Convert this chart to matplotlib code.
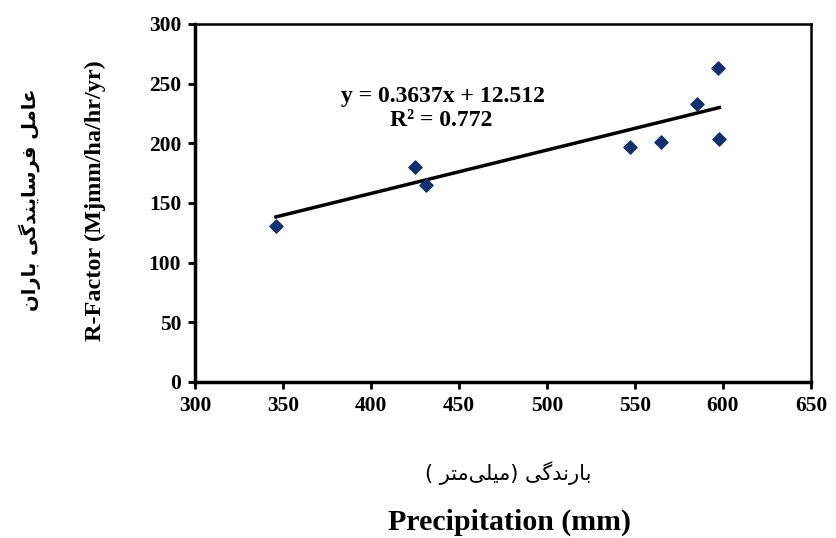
import matplotlib
matplotlib.use("Agg")
import matplotlib.pyplot as plt
import numpy as np

# data
precip = [346, 425, 431, 547, 565, 585, 597, 598]
r_factor = [131, 180, 165, 197, 201, 233, 263, 204]
slope, intercept = 0.3637, 12.512
r2 = 0.772

x_ticks = [300, 350, 400, 450, 500, 550, 600, 650]
y_ticks = [0, 50, 100, 150, 200, 250, 300]

# simple Persian shaping (presentation forms), since matplotlib has no shaper
FORMS = {
    "\u0627": ("\uFE8D", "\uFE8E", None, None),
    "\u0628": ("\uFE8F", "\uFE90", "\uFE91", "\uFE92"),
    "\u062A": ("\uFE95", "\uFE96", "\uFE97", "\uFE98"),
    "\u062F": ("\uFEA9", "\uFEAA", None, None),
    "\u0631": ("\uFEAD", "\uFEAE", None, None),
    "\u0633": ("\uFEB1", "\uFEB2", "\uFEB3", "\uFEB4"),
    "\u0639": ("\uFEC9", "\uFECA", "\uFECB", "\uFECC"),
    "\u0641": ("\uFED1", "\uFED2", "\uFED3", "\uFED4"),
    "\u0644": ("\uFEDD", "\uFEDE", "\uFEDF", "\uFEE0"),
    "\u0645": ("\uFEE1", "\uFEE2", "\uFEE3", "\uFEE4"),
    "\u0646": ("\uFEE5", "\uFEE6", "\uFEE7", "\uFEE8"),
    "\u06CC": ("\uFBFC", "\uFBFD", "\uFBFE", "\uFBFF"),
    "\u06AF": ("\uFB92", "\uFB93", "\uFB94", "\uFB95"),
}


def shape_word(word):
    out = []
    n = len(word)
    for i, ch in enumerate(word):
        if ch not in FORMS:
            if ch != "\u200c":
                out.append(ch)
            continue
        isol, fin, ini, med = FORMS[ch]
        prev = word[i - 1] if i > 0 else None
        nxt = word[i + 1] if i < n - 1 else None
        joins_prev = prev in FORMS and FORMS[prev][2] is not None
        joins_next = nxt in FORMS and ini is not None
        if joins_prev and joins_next:
            out.append(med)
        elif joins_prev:
            out.append(fin)
        elif joins_next:
            out.append(ini)
        else:
            out.append(isol)
    return "".join(reversed(out))


def rtl(text):
    return " ".join(shape_word(w) for w in reversed(text.split(" ")))


fa_ylabel = rtl("عامل فرسایندگی باران")
# visual order of "بارندگی (میلی‌متر )" written right to left
fa_xlabel = "( " + shape_word("میلی\u200cمتر") + ") " + shape_word("بارندگی")

fig = plt.figure(figsize=(8.36, 5.38), dpi=100)
ax = fig.add_axes([0.2333, 0.290, 0.7367, 0.6654])

ax.scatter(precip, r_factor, marker="D", s=45, color="#13306e", zorder=3)
xs = np.array([min(precip), max(precip)])
ax.plot(xs, slope * xs + intercept, color="black", lw=2.5, zorder=2)

ax.set_xlim(300, 650)
ax.set_ylim(0, 300)
ax.set_xticks(x_ticks)
ax.set_yticks(y_ticks)

serif = "Liberation Serif"
for lab in ax.get_xticklabels() + ax.get_yticklabels():
    lab.set_fontfamily(serif)
    lab.set_fontweight("bold")
    lab.set_fontsize(15.5)
ax.tick_params(direction="out", length=5, width=2, pad=5)

for side in ["left", "bottom"]:
    ax.spines[side].set_linewidth(2.5)
for side in ["top", "right"]:
    ax.spines[side].set_linewidth(1.8)

ax.text(441, 239, f"y = {slope}x + {intercept}", ha="center", va="center",
        fontfamily=serif, fontweight="bold", fontsize=17)
ax.text(440, 219.5, f"R² = {r2}", ha="center", va="center",
        fontfamily=serif, fontweight="bold", fontsize=17)

fig.text(0.114, 0.628, "R-Factor (Mjmm/ha/hr/yr)", rotation=90, ha="center",
         va="center", fontfamily=serif, fontweight="bold", fontsize=17.5)
fig.text(0.036, 0.628, fa_ylabel, rotation=90, ha="center", va="center",
         fontfamily="DejaVu Sans", fontweight="bold", fontsize=14)
fig.text(0.608, 0.120, fa_xlabel, ha="center", va="center",
         fontfamily="DejaVu Sans", fontsize=15)
fig.text(0.610, 0.030, "Precipitation (mm)", ha="center", va="center",
         fontfamily=serif, fontweight="bold", fontsize=21.5)

plt.savefig("out.png", dpi=100)
